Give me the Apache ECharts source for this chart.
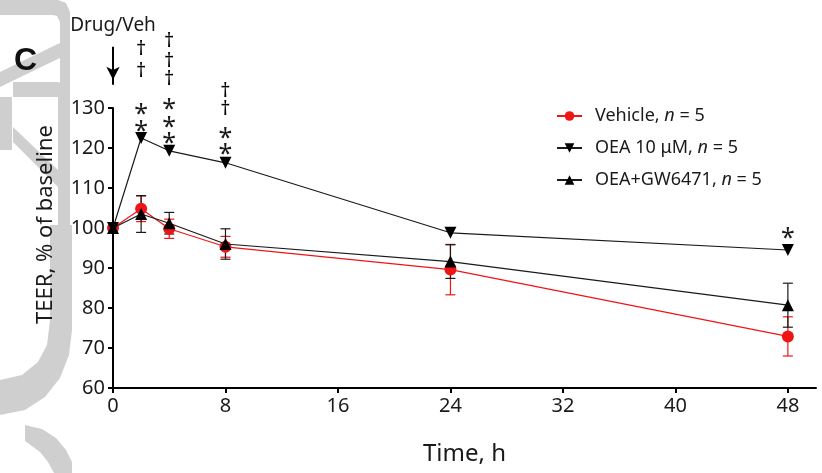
<!DOCTYPE html>
<html>
<head>
<meta charset="utf-8">
<script src="https://cdn.jsdelivr.net/npm/echarts@6.0.0/dist/echarts.min.js"></script>
<style>
  html, body { margin: 0; padding: 0; background: #fff; }
  #chart { width: 822px; height: 473px; }
</style>
</head>
<body>
<div id="chart"></div>
<script>
// TEER time course — Vehicle / OEA 10 μM / OEA+GW6471 (mean ± SEM)
const times = [0, 2, 4, 8, 24, 48];
const xTicks = [0, 8, 16, 24, 32, 40, 48];

const vehicleMean = [100, 104.8, 99.8, 95.3, 89.6, 72.9];
const vehicleSem  = [0, 3.2, 2.4, 2.6, 6.3, 4.9];
const oeaMean     = [100, 122.5, 119.3, 116.3, 98.8, 94.5];
const gwMean      = [100, 103.5, 101.2, 96.0, 91.6, 80.7];
const gwSem       = [0, 4.6, 2.7, 3.8, 4.2, 5.5];

// significance marks (axis units)
const starX = [2, 2, 4, 4, 4, 8, 8, 48];
const starY = [128.4, 124.1, 129.6, 125.1, 121.1, 122.4, 118.4, 97.4];
const daggerX = [2, 2, 4, 4, 4, 8, 8];
const daggerY = [144.8, 139.1, 146.6, 141.8, 137.3, 134.1, 129.6];
const drugLabel = { x: 0, y: 150.6, text: "Drug/Veh" };
const arrowFrom = [0, 145.3];
const arrowTo = [0, 135.8];

const RED = "#f01515";
const INK = "#1a1a1a";
const FONT = "Noto Sans";
const WM = "#cfcfcf";

const chart = echarts.init(document.getElementById("chart"), null, { renderer: "canvas" });

function errData(mean, sem) {
  return times.map((t, i) => [t, mean[i] - sem[i], mean[i] + sem[i]]).filter(d => d[2] - d[1] > 0);
}

function errBars(color) {
  return function (params, api) {
    const x = api.value(0);
    const lo = api.coord([x, api.value(1)]);
    const hi = api.coord([x, api.value(2)]);
    const w = 5;
    const st = { stroke: color, lineWidth: 1.2 };
    return {
      type: "group",
      children: [
        { type: "line", shape: { x1: lo[0], y1: lo[1], x2: hi[0], y2: hi[1] }, style: st },
        { type: "line", shape: { x1: lo[0] - w, y1: lo[1], x2: lo[0] + w, y2: lo[1] }, style: st },
        { type: "line", shape: { x1: hi[0] - w, y1: hi[1], x2: hi[0] + w, y2: hi[1] }, style: st },
      ],
    };
  };
}

const pair = (xs, ys) => xs.map((x, i) => [x, ys[i]]);

// watermark (light grey letter shapes at the left edge)
const watermark = [
  [[0,0],[58,0],[66,3],[70,12],[70,97],[60,97],[60,22],[57,16],[53,15],[0,15]],
  [[0,72],[66,40],[66,55],[0,87]],
  [[13,82],[58,82],[66,85],[70,94],[70,225],[58,225],[58,97],[13,97]],
  [[0,97],[12,97],[12,150],[0,150]],
  [[13,127],[58,170],[58,187],[13,142]],
  [[50,225],[72,225],[72,330],[69,355],[60,378],[45,397],[25,410],[0,415],[0,380],[22,375],[38,362],[47,345],[50,320]],
  [[25,425],[42,429],[56,438],[66,450],[72,462],[72,473],[54,473],[48,462],[40,452],[25,441]],
].map(pts => ({ type: "polygon", shape: { points: pts }, style: { fill: WM }, z: -10, silent: true }));

const textMarks = (name, data, text, size, color) => ({
  name, type: "scatter", data, symbolSize: 0, clip: false, silent: true,
  itemStyle: { opacity: 1 },
  label: { show: true, position: "inside", formatter: text, fontSize: size, color: color || INK, fontFamily: FONT, opacity: 1 },
});

chart.setOption({
  backgroundColor: "#fff",
  animation: false,
  textStyle: { fontFamily: FONT },
  graphic: { elements: watermark },
  title: {
    text: "C", left: 9, top: 40,
    textStyle: { fontFamily: "Liberation Sans", fontWeight: "bold", fontSize: 32, color: "#111" },
  },
  legend: {
    data: ["Vehicle", "OEA 10 μM", "OEA+GW6471"],
    orient: "vertical", left: 551, top: 101,
    itemWidth: 25, itemHeight: 12, itemGap: 12,
    textStyle: {
      fontFamily: FONT, fontSize: 18, color: INK, lineHeight: 20, padding: [0, 0, 0, 8],
      rich: { i: { fontFamily: FONT, fontSize: 18, fontStyle: "italic", color: INK } },
    },
    formatter: name => `${name}, {i|n} = 5`,
  },
  grid: { left: 113, right: 6, top: 108, height: 280, containLabel: false },
  xAxis: {
    type: "value", min: 0, max: 50,
    name: "Time, h", nameLocation: "middle", nameGap: 54,
    nameTextStyle: { fontFamily: FONT, fontSize: 24, color: INK },
    axisLine: { lineStyle: { color: "#000", width: 2 } },
    axisTick: { show: true, length: 5, lineStyle: { color: "#000", width: 2 }, customValues: xTicks },
    axisLabel: { fontSize: 20, color: INK, margin: 8, customValues: xTicks },
    splitLine: { show: false },
  },
  yAxis: {
    type: "value", min: 60, max: 130, interval: 10,
    name: "TEER, % of baseline", nameLocation: "middle", nameGap: 56,
    nameTextStyle: { fontFamily: FONT, fontSize: 22, color: INK, padding: [0, 0, 0, 47] },
    axisLine: { show: true, lineStyle: { color: "#000", width: 2 } },
    axisTick: { show: true, length: 5, lineStyle: { color: "#000", width: 2 } },
    axisLabel: { fontSize: 20, color: INK, margin: 8 },
    splitLine: { show: false },
  },
  series: [
    {
      type: "custom", name: "vehErr", renderItem: errBars(RED),
      data: errData(vehicleMean, vehicleSem), z: 3, silent: true,
    },
    {
      type: "custom", name: "gwErr", renderItem: errBars(INK),
      data: errData(gwMean, gwSem), z: 3, silent: true,
    },
    {
      name: "Vehicle", type: "line", data: pair(times, vehicleMean),
      symbol: "circle", symbolSize: 12,
      itemStyle: { color: RED }, lineStyle: { color: RED, width: 1.2 }, z: 5,
    },
    {
      name: "OEA 10 μM", type: "line", data: pair(times, oeaMean),
      symbol: "triangle", symbolSize: 12, symbolRotate: 180,
      itemStyle: { color: "#000" }, lineStyle: { color: INK, width: 1.2 }, z: 5,
    },
    {
      name: "OEA+GW6471", type: "line", data: pair(times, gwMean),
      symbol: "triangle", symbolSize: 12,
      itemStyle: { color: "#000" }, lineStyle: { color: INK, width: 1.2 }, z: 6,
    },
    textMarks("stars", pair(starX, starY), "*", 25),
    textMarks("daggers", pair(daggerX, daggerY), "†", 20, "#000"),
    textMarks("drug", [[drugLabel.x, drugLabel.y]], drugLabel.text, 19),
    {
      name: "arrow", type: "line", clip: false, silent: true,
      data: [
        { value: arrowFrom, symbol: "none" },
        { value: arrowTo, symbol: "arrow", symbolSize: [10, 13], symbolRotate: 180, symbolOffset: [0, -5] },
      ],
      itemStyle: { color: "#000" },
      lineStyle: { color: "#000", width: 2 },
      z: 7,
    },
  ],
});
</script>
</body>
</html>
